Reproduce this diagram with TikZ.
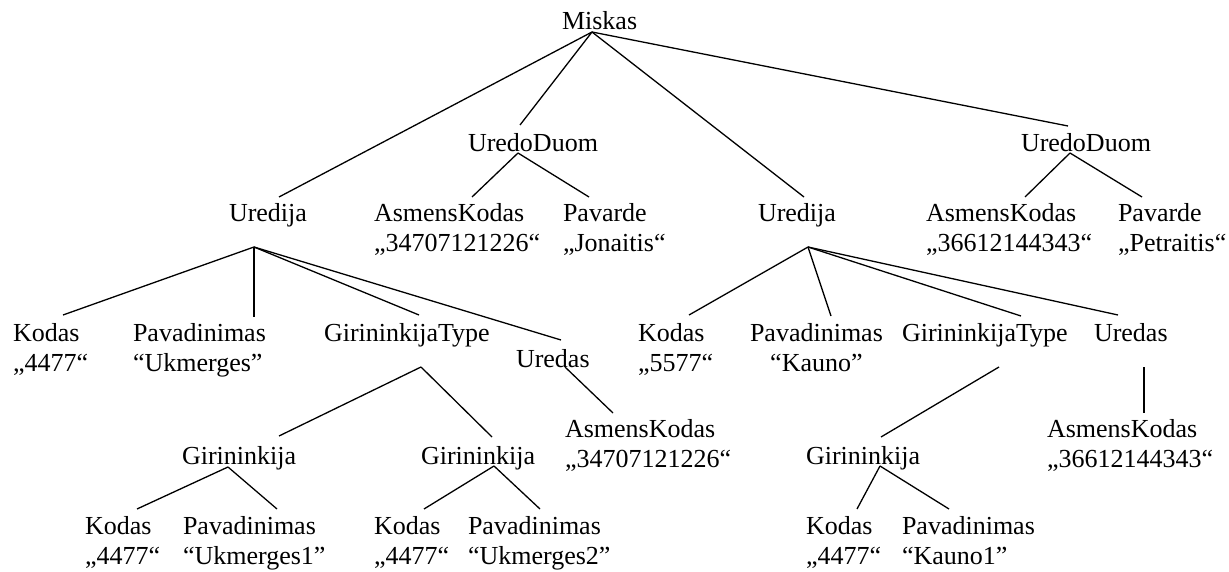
\documentclass[tikz,border=0pt]{standalone}
\usepackage{fontspec}
\setmainfont{Liberation Serif}
\newcommand{\twoline}[2]{\begin{tabular}[t]{@{}l@{}}#1\\#2\end{tabular}}
\newcommand{\twolinec}[2]{\begin{tabular}[t]{@{}c@{}}#1\\#2\end{tabular}}
\begin{document}
\begin{tikzpicture}[x=1pt,y=-1pt,
  lbl/.style={anchor=base west,inner sep=0pt,outer sep=0pt,
    font=\fontsize{26}{30}\selectfont},
  edge/.style={draw=black,line width=1.3pt}]
\useasboundingbox[fill=white] (0,0) rectangle (1229,572);

% root
\node[lbl] (miskas) at (562,30) {Miskas};

% second level
\node[lbl] (udL) at (468,152) {UredoDuom};
\node[lbl] (udR) at (1021,152) {UredoDuom};

% third level
\node[lbl] (urL) at (229,222) {Uredija};
\node[lbl] (akL) at (374,222) {\twoline{AsmensKodas}{„34707121226“}};
\node[lbl] (pvL) at (563,222) {\twoline{Pavarde}{„Jonaitis“}};
\node[lbl] (urR) at (758,222) {Uredija};
\node[lbl] (akR) at (926,222) {\twoline{AsmensKodas}{„36612144343“}};
\node[lbl] (pvR) at (1118,222) {\twoline{Pavarde}{„Petraitis“}};

% children of the first Uredija
\node[lbl] (kdL) at (13,341) {\twoline{Kodas}{„4477“}};
\node[lbl] (pnL) at (133,341) {\twoline{Pavadinimas}{“Ukmerges”}};
\node[lbl] (gtL) at (324,341) {GirininkijaType};
\node[lbl] (usL) at (516,367) {Uredas};
\node[lbl] (akM) at (565,437) {\twoline{AsmensKodas}{„34707121226“}};

% children of the second Uredija
\node[lbl] (kdR) at (638,341) {\twoline{Kodas}{„5577“}};
\node[lbl] (pnR) at (750,341) {\twolinec{Pavadinimas}{“Kauno”}};
\node[lbl] (gtR) at (902,341) {GirininkijaType};
\node[lbl] (usR) at (1094,341) {Uredas};
\node[lbl] (akR2) at (1047,437) {\twoline{AsmensKodas}{„36612144343“}};

% Girininkija level
\node[lbl] (g1) at (182,464) {Girininkija};
\node[lbl] (g2) at (421,464) {Girininkija};
\node[lbl] (g3) at (806,464) {Girininkija};

% leaves
\node[lbl] (k1) at (85,534) {\twoline{Kodas}{„4477“}};
\node[lbl] (p1) at (183,534) {\twoline{Pavadinimas}{“Ukmerges1”}};
\node[lbl] (k2) at (374,534) {\twoline{Kodas}{„4477“}};
\node[lbl] (p2) at (468,534) {\twoline{Pavadinimas}{“Ukmerges2”}};
\node[lbl] (k3) at (806,534) {\twoline{Kodas}{„4477“}};
\node[lbl] (p3) at (902,534) {\twoline{Pavadinimas}{“Kauno1”}};

% connectors
\path[edge] ([shift={(30,2)}]miskas.base west) -- ([shift={(52,-27)}]udL.base west);
\path[edge] ([shift={(30,2)}]miskas.base west) -- ([shift={(50,-25)}]urL.base west);
\path[edge] ([shift={(30,2)}]miskas.base west) -- ([shift={(46,-25)}]urR.base west);
\path[edge] ([shift={(30,2)}]miskas.base west) -- ([shift={(47,-26)}]udR.base west);

\path[edge] ([shift={(50,1)}]udL.base west) -- ([shift={(98,-25)}]akL.base west);
\path[edge] ([shift={(50,1)}]udL.base west) -- ([shift={(26,-25)}]pvL.base west);
\path[edge] ([shift={(49,1)}]udR.base west) -- ([shift={(99,-25)}]akR.base west);
\path[edge] ([shift={(49,1)}]udR.base west) -- ([shift={(24,-25)}]pvR.base west);

\path[edge] ([shift={(25,25)}]urL.base west) -- ([shift={(50,-26)}]kdL.base west);
\path[edge] ([shift={(25,25)}]urL.base west) -- ([shift={(121,-24)}]pnL.base west);
\path[edge] ([shift={(25,25)}]urL.base west) -- ([shift={(95,-26)}]gtL.base west);
\path[edge] ([shift={(25,25)}]urL.base west) -- ([shift={(45,-27)}]usL.base west);

\path[edge] ([shift={(50,25)}]urR.base west) -- ([shift={(51,-26)}]kdR.base west);
\path[edge] ([shift={(50,25)}]urR.base west) -- ([shift={(81,-25)}]pnR.base west);
\path[edge] ([shift={(50,25)}]urR.base west) -- ([shift={(119,-25)}]gtR.base west);
\path[edge] ([shift={(50,25)}]urR.base west) -- ([shift={(24,-26)}]usR.base west);

\path[edge] ([shift={(97,26)}]gtL.base west) -- ([shift={(97,-28)}]g1.base west);
\path[edge] ([shift={(97,26)}]gtL.base west) -- ([shift={(71,-27)}]g2.base west);
\path[edge] ([shift={(49,0)}]usL.base west) -- ([shift={(48,-24)}]akM.base west);

\path[edge] ([shift={(97,26)}]gtR.base west) -- ([shift={(75,-27)}]g3.base west);
\path[edge] ([shift={(50,26)}]usR.base west) -- ([shift={(97,-24)}]akR2.base west);

\path[edge] ([shift={(46,3)}]g1.base west) -- ([shift={(52,-25)}]k1.base west);
\path[edge] ([shift={(46,3)}]g1.base west) -- ([shift={(94,-25)}]p1.base west);
\path[edge] ([shift={(73,2)}]g2.base west) -- ([shift={(50,-25)}]k2.base west);
\path[edge] ([shift={(73,2)}]g2.base west) -- ([shift={(72,-25)}]p2.base west);
\path[edge] ([shift={(74,2)}]g3.base west) -- ([shift={(51,-25)}]k3.base west);
\path[edge] ([shift={(74,2)}]g3.base west) -- ([shift={(47,-25)}]p3.base west);
\end{tikzpicture}
\end{document}
